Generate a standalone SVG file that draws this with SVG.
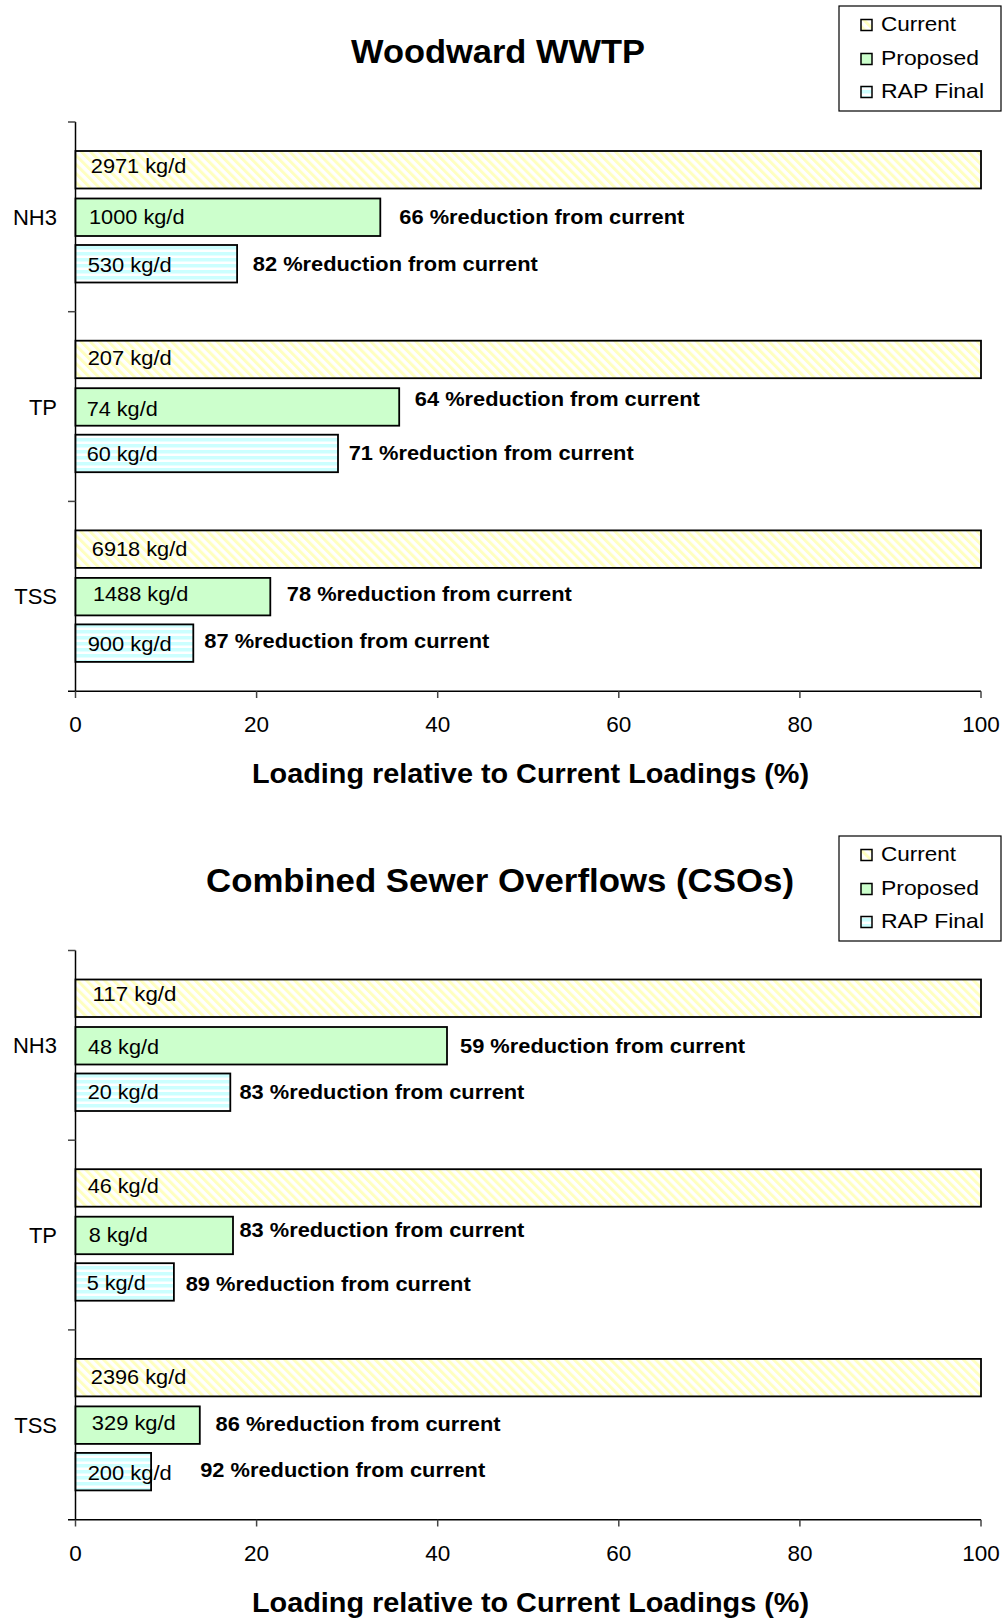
<svg xmlns="http://www.w3.org/2000/svg" width="1007" height="1618" viewBox="0 0 1007 1618">
  <defs>
    <!-- fills for the three loading series -->
    <pattern id="fill-current" width="6.4" height="6.4" patternUnits="userSpaceOnUse" patternTransform="rotate(-45)">
      <rect width="6.4" height="6.4" fill="#ffffff"/>
      <rect width="3" height="6.4" fill="#ffffc0"/>
    </pattern>
    <pattern id="fill-rap" width="8" height="6" patternUnits="userSpaceOnUse">
      <rect width="8" height="6" fill="#ffffff"/>
      <rect width="8" height="3.5" fill="#ccffff"/>
    </pattern>
    <style>
      .bar { stroke: #000; stroke-width: 1.8; }
      .current { fill: url(#fill-current); }
      .proposed { fill: #ccffcc; }
      .rap { fill: url(#fill-rap); }
      .axis { stroke: #000; stroke-width: 1.5; fill: none; }
      .tick { stroke: #444; stroke-width: 1.5; }
      .title { font-family: "Liberation Sans", Arial, sans-serif; font-weight: bold; font-size: 34px; fill: #000; text-anchor: middle; }
      .axtitle { font-family: "Liberation Sans", Arial, sans-serif; font-weight: bold; font-size: 28px; fill: #000; text-anchor: middle; }
      .ticklbl { font-family: "Liberation Sans", Arial, sans-serif; font-size: 22.5px; fill: #000; text-anchor: middle; }
      .cat { font-family: "Liberation Sans", Arial, sans-serif; font-size: 22px; fill: #000; text-anchor: end; }
      .val { font-family: "Liberation Sans", Arial, sans-serif; font-size: 20.5px; fill: #000; }
      .red { font-family: "Liberation Sans", Arial, sans-serif; font-weight: bold; font-size: 19.5px; fill: #000; }
      .leg { font-family: "Liberation Sans", Arial, sans-serif; font-size: 21px; fill: #000; }
      .legbox { fill: #fff; stroke: #000; stroke-width: 1.2; }
      .legkey { stroke: #000; stroke-width: 1.5; }
    </style>
  </defs>

  <rect width="1007" height="1618" fill="#ffffff"/>

  <!-- ===================== Woodward WWTP ===================== -->
  <g id="chart-woodward">
    <text class="title" x="498" y="63" textLength="294" lengthAdjust="spacingAndGlyphs">Woodward WWTP</text>

    <g id="legend-woodward">
      <rect class="legbox" x="839" y="6" width="162" height="105"/>
      <rect class="legkey current" x="861" y="19.5" width="11" height="11"/>
      <text class="leg" x="881" y="31" textLength="75" lengthAdjust="spacingAndGlyphs">Current</text>
      <rect class="legkey proposed" x="861" y="53.5" width="11" height="11"/>
      <text class="leg" x="881" y="65" textLength="98" lengthAdjust="spacingAndGlyphs">Proposed</text>
      <rect class="legkey rap" x="861" y="86.5" width="11" height="11"/>
      <text class="leg" x="881" y="98" textLength="103" lengthAdjust="spacingAndGlyphs">RAP Final</text>
    </g>

    <g id="axes-woodward">
      <line class="axis" x1="75.5" y1="122" x2="75.5" y2="691.2"/>
      <line class="axis" x1="68" y1="691.2" x2="981" y2="691.2"/>
      <line class="tick" x1="68" y1="122" x2="75.5" y2="122"/>
      <line class="tick" x1="68" y1="311.7" x2="75.5" y2="311.7"/>
      <line class="tick" x1="68" y1="501.4" x2="75.5" y2="501.4"/>
      <line class="tick" x1="75.5" y1="691.2" x2="75.5" y2="698"/>
      <line class="tick" x1="256.6" y1="691.2" x2="256.6" y2="698"/>
      <line class="tick" x1="437.7" y1="691.2" x2="437.7" y2="698"/>
      <line class="tick" x1="618.8" y1="691.2" x2="618.8" y2="698"/>
      <line class="tick" x1="799.9" y1="691.2" x2="799.9" y2="698"/>
      <line class="tick" x1="981" y1="691.2" x2="981" y2="698"/>
      <text class="ticklbl" x="75.5" y="732">0</text>
      <text class="ticklbl" x="256.6" y="732">20</text>
      <text class="ticklbl" x="437.7" y="732">40</text>
      <text class="ticklbl" x="618.8" y="732">60</text>
      <text class="ticklbl" x="799.9" y="732">80</text>
      <text class="ticklbl" x="981" y="732">100</text>
      <text class="axtitle" x="530.5" y="783" textLength="557" lengthAdjust="spacingAndGlyphs">Loading relative to Current Loadings (%)</text>
      <text class="cat" x="57" y="224.9">NH3</text>
      <text class="cat" x="57" y="414.6">TP</text>
      <text class="cat" x="57" y="604.3">TSS</text>
    </g>

    <g id="w-nh3">
      <rect class="bar current" x="75.5" y="151" width="905.5" height="37.5"/>
      <text class="val" x="90.8" y="172.8" textLength="95.5" lengthAdjust="spacingAndGlyphs">2971 kg/d</text>
      <rect class="bar proposed" x="75.5" y="198.5" width="304.8" height="37.5"/>
      <text class="val" x="89" y="224.3" textLength="95.5" lengthAdjust="spacingAndGlyphs">1000 kg/d</text>
      <text class="red" x="399.3" y="223.7" textLength="285" lengthAdjust="spacingAndGlyphs">66 %reduction from current</text>
      <rect class="bar rap" x="75.5" y="245" width="161.6" height="37.5"/>
      <text class="val" x="87.7" y="271.5" textLength="84" lengthAdjust="spacingAndGlyphs">530 kg/d</text>
      <text class="red" x="252.8" y="271" textLength="285" lengthAdjust="spacingAndGlyphs">82 %reduction from current</text>
    </g>

    <g id="w-tp">
      <rect class="bar current" x="75.5" y="340.7" width="905.5" height="37.5"/>
      <text class="val" x="87.7" y="364.5" textLength="84" lengthAdjust="spacingAndGlyphs">207 kg/d</text>
      <rect class="bar proposed" x="75.5" y="388.2" width="323.7" height="37.5"/>
      <text class="val" x="86.7" y="416.1" textLength="71" lengthAdjust="spacingAndGlyphs">74 kg/d</text>
      <text class="red" x="414.8" y="406.3" textLength="285" lengthAdjust="spacingAndGlyphs">64 %reduction from current</text>
      <rect class="bar rap" x="75.5" y="434.7" width="262.5" height="37.5"/>
      <text class="val" x="86.7" y="460.5" textLength="71" lengthAdjust="spacingAndGlyphs">60 kg/d</text>
      <text class="red" x="348.7" y="460" textLength="285" lengthAdjust="spacingAndGlyphs">71 %reduction from current</text>
    </g>

    <g id="w-tss">
      <rect class="bar current" x="75.5" y="530.4" width="905.5" height="37.5"/>
      <text class="val" x="91.8" y="555.5" textLength="95.5" lengthAdjust="spacingAndGlyphs">6918 kg/d</text>
      <rect class="bar proposed" x="75.5" y="577.9" width="194.8" height="37.5"/>
      <text class="val" x="92.9" y="600.8" textLength="95.5" lengthAdjust="spacingAndGlyphs">1488 kg/d</text>
      <text class="red" x="286.8" y="601.3" textLength="285" lengthAdjust="spacingAndGlyphs">78 %reduction from current</text>
      <rect class="bar rap" x="75.5" y="624.4" width="117.8" height="37.5"/>
      <text class="val" x="87.7" y="651.3" textLength="84" lengthAdjust="spacingAndGlyphs">900 kg/d</text>
      <text class="red" x="204.3" y="647.7" textLength="285" lengthAdjust="spacingAndGlyphs">87 %reduction from current</text>
    </g>
  </g>

  <!-- ============== Combined Sewer Overflows (CSOs) ============== -->
  <g id="chart-cso">
    <text class="title" x="500" y="892" textLength="588" lengthAdjust="spacingAndGlyphs">Combined Sewer Overflows (CSOs)</text>

    <g id="legend-cso">
      <rect class="legbox" x="839" y="836" width="162" height="105"/>
      <rect class="legkey current" x="861" y="849.5" width="11" height="11"/>
      <text class="leg" x="881" y="861" textLength="75" lengthAdjust="spacingAndGlyphs">Current</text>
      <rect class="legkey proposed" x="861" y="883.5" width="11" height="11"/>
      <text class="leg" x="881" y="895" textLength="98" lengthAdjust="spacingAndGlyphs">Proposed</text>
      <rect class="legkey rap" x="861" y="916.5" width="11" height="11"/>
      <text class="leg" x="881" y="928" textLength="103" lengthAdjust="spacingAndGlyphs">RAP Final</text>
    </g>

    <g id="axes-cso">
      <line class="axis" x1="75.5" y1="950.5" x2="75.5" y2="1519.7"/>
      <line class="axis" x1="68" y1="1519.7" x2="981" y2="1519.7"/>
      <line class="tick" x1="68" y1="950.5" x2="75.5" y2="950.5"/>
      <line class="tick" x1="68" y1="1140.2" x2="75.5" y2="1140.2"/>
      <line class="tick" x1="68" y1="1329.9" x2="75.5" y2="1329.9"/>
      <line class="tick" x1="75.5" y1="1519.7" x2="75.5" y2="1526.5"/>
      <line class="tick" x1="256.6" y1="1519.7" x2="256.6" y2="1526.5"/>
      <line class="tick" x1="437.7" y1="1519.7" x2="437.7" y2="1526.5"/>
      <line class="tick" x1="618.8" y1="1519.7" x2="618.8" y2="1526.5"/>
      <line class="tick" x1="799.9" y1="1519.7" x2="799.9" y2="1526.5"/>
      <line class="tick" x1="981" y1="1519.7" x2="981" y2="1526.5"/>
      <text class="ticklbl" x="75.5" y="1560.5">0</text>
      <text class="ticklbl" x="256.6" y="1560.5">20</text>
      <text class="ticklbl" x="437.7" y="1560.5">40</text>
      <text class="ticklbl" x="618.8" y="1560.5">60</text>
      <text class="ticklbl" x="799.9" y="1560.5">80</text>
      <text class="ticklbl" x="981" y="1560.5">100</text>
      <text class="axtitle" x="530.5" y="1611.5" textLength="557" lengthAdjust="spacingAndGlyphs">Loading relative to Current Loadings (%)</text>
      <text class="cat" x="57" y="1053.4">NH3</text>
      <text class="cat" x="57" y="1243.1">TP</text>
      <text class="cat" x="57" y="1432.8">TSS</text>
    </g>

    <g id="c-nh3">
      <rect class="bar current" x="75.5" y="979.5" width="905.5" height="37.5"/>
      <text class="val" x="92.5" y="1001.1" textLength="84" lengthAdjust="spacingAndGlyphs">117 kg/d</text>
      <rect class="bar proposed" x="75.5" y="1027" width="371.5" height="37.5"/>
      <text class="val" x="88" y="1053.5" textLength="71" lengthAdjust="spacingAndGlyphs">48 kg/d</text>
      <text class="red" x="460" y="1053.2" textLength="285" lengthAdjust="spacingAndGlyphs">59 %reduction from current</text>
      <rect class="bar rap" x="75.5" y="1073.5" width="154.8" height="37.5"/>
      <text class="val" x="87.7" y="1099.1" textLength="71" lengthAdjust="spacingAndGlyphs">20 kg/d</text>
      <text class="red" x="239.4" y="1098.6" textLength="285" lengthAdjust="spacingAndGlyphs">83 %reduction from current</text>
    </g>

    <g id="c-tp">
      <rect class="bar current" x="75.5" y="1169.2" width="905.5" height="37.5"/>
      <text class="val" x="87.7" y="1193" textLength="71" lengthAdjust="spacingAndGlyphs">46 kg/d</text>
      <rect class="bar proposed" x="75.5" y="1216.7" width="157.5" height="37.5"/>
      <text class="val" x="88.7" y="1241.5" textLength="59" lengthAdjust="spacingAndGlyphs">8 kg/d</text>
      <text class="red" x="239.4" y="1236.9" textLength="285" lengthAdjust="spacingAndGlyphs">83 %reduction from current</text>
      <rect class="bar rap" x="75.5" y="1263.2" width="98.4" height="37.5"/>
      <text class="val" x="86.7" y="1290" textLength="59" lengthAdjust="spacingAndGlyphs">5 kg/d</text>
      <text class="red" x="185.7" y="1290.6" textLength="285" lengthAdjust="spacingAndGlyphs">89 %reduction from current</text>
    </g>

    <g id="c-tss">
      <rect class="bar current" x="75.5" y="1358.9" width="905.5" height="37.5"/>
      <text class="val" x="90.8" y="1383.9" textLength="95.5" lengthAdjust="spacingAndGlyphs">2396 kg/d</text>
      <rect class="bar proposed" x="75.5" y="1406.4" width="124.3" height="37.5"/>
      <text class="val" x="91.8" y="1430.3" textLength="84" lengthAdjust="spacingAndGlyphs">329 kg/d</text>
      <text class="red" x="215.6" y="1430.9" textLength="285" lengthAdjust="spacingAndGlyphs">86 %reduction from current</text>
      <rect class="bar rap" x="75.5" y="1452.9" width="75.6" height="37.5"/>
      <text class="val" x="87.7" y="1479.8" textLength="84" lengthAdjust="spacingAndGlyphs">200 kg/d</text>
      <text class="red" x="200.2" y="1477.3" textLength="285" lengthAdjust="spacingAndGlyphs">92 %reduction from current</text>
    </g>
  </g>
</svg>
